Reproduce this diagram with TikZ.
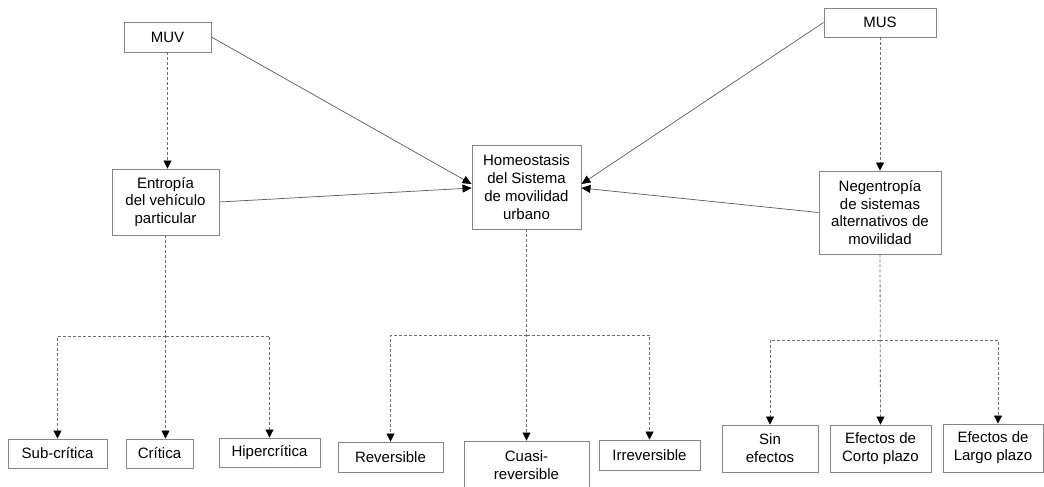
\documentclass[tikz,border=0pt]{standalone}
\usepackage{fontspec}
\setmainfont{Liberation Sans}
\usepackage{tikz}
\usetikzlibrary{arrows.meta}
\definecolor{boxgray}{HTML}{858585}
\definecolor{linegray}{HTML}{5A5A5A}
\definecolor{dashgray}{HTML}{6E6E6E}
\tikzset{
box/.style = {rectangle, draw=boxgray, line width=0.9pt, align=center,
              inner sep=2pt, minimum width=#1},
box/.default = 100pt, % width of the box
solidArr/.style = {draw=linegray, line width=0.7pt,
                   -{Triangle[width=8pt,length=9pt,black]}},
dashArr/.style = {draw=dashgray, line width=0.8pt, dash pattern=on 3pt off 2pt,
                  -{Triangle[width=8pt,length=8pt,black]}}
}

\begin{document}
\begin{tikzpicture}[x=1pt, y=-1pt, font=\fontsize{15pt}{17.8pt}\selectfont]
  \clip (0,0) rectangle (1044,487);
  \fill[white] (0,0) rectangle (1044,487);

  % Boxes
    \node[box=87pt, minimum height=30pt] (muv) at (167.5,37) {MUV};
    \node[box=112pt, minimum height=29pt] (mus) at (880,22.5) {MUS};
    \node[box=107pt, minimum height=66pt] (ent) at (165.5,202) {Entropía\\del vehículo\\particular};
    \node[box=109pt, minimum height=84pt] (homeo) at (526.5,187) {Homeostasis\\del Sistema\\de movilidad\\urbano};
    \node[box=122pt, minimum height=83pt] (neg) at (880,212.5) {Negentropía\\de sistemas\\alternativos de\\movilidad};

    \node[box=99pt, minimum height=29pt] (sub) at (57.5,453.5) {Sub-crítica};
    \node[box=67pt, minimum height=29pt] (crit) at (159.5,453.5) {Crítica};
    \node[box=101pt, minimum height=29pt] (hiper) at (269.5,452.5) {Hipercrítica};
    \node[box=105pt, minimum height=30pt] (rev) at (390.5,457) {Reversible};
    \node[box=125pt, minimum height=48pt] (cuasi) at (526.5,465) {Cuasi-\\reversible};
    \node[box=101pt, minimum height=30pt] (irrev) at (649.5,455) {Irreversible};
    \node[box=96pt, minimum height=47pt] (sin) at (770,448.5) {Sin\\efectos};
    \node[box=101pt, minimum height=47pt] (corto) at (880.5,448.5) {Efectos de\\Corto plazo};
    \node[box=100pt, minimum height=48pt] (largo) at (993,448) {Efectos de\\Largo plazo};

  % Junctions
    \coordinate (entJ) at (165.5,336);
    \coordinate (homeoJ) at (526.5,335);
    \coordinate (negJ) at (880,340);

  % Lines
    \draw[solidArr] (muv.east) -- ([yshift=3pt]homeo.west);
    \draw[solidArr] (ent.east) -- ([yshift=-1pt]homeo.west);
    \draw[solidArr] (mus.west) -- ([yshift=3pt]homeo.east);
    \draw[solidArr] (neg.west) -- ([yshift=-1pt]homeo.east);

    \draw[dashArr] (muv.south) -- (muv.south |- ent.north);
    \draw[dashArr] (mus.south) -- (neg.north);

    \draw[dashArr] (ent.south) -- (ent.south |- crit.north);
    \draw[dashArr] (entJ) -| (sub.north);
    \draw[dashArr] (entJ) -| (hiper.north);

    \draw[dashArr] (homeo.south) -- (cuasi.north);
    \draw[dashArr] (homeoJ) -| (rev.north);
    \draw[dashArr] (homeoJ) -| (irrev.north);

    \draw[dashArr] (neg.south) -- (corto.north);
    \draw[dashArr] (negJ) -| (sin.north);
    \draw[dashArr] (negJ) -| ([xshift=5pt]largo.north);
  \end{tikzpicture}
\end{document}
